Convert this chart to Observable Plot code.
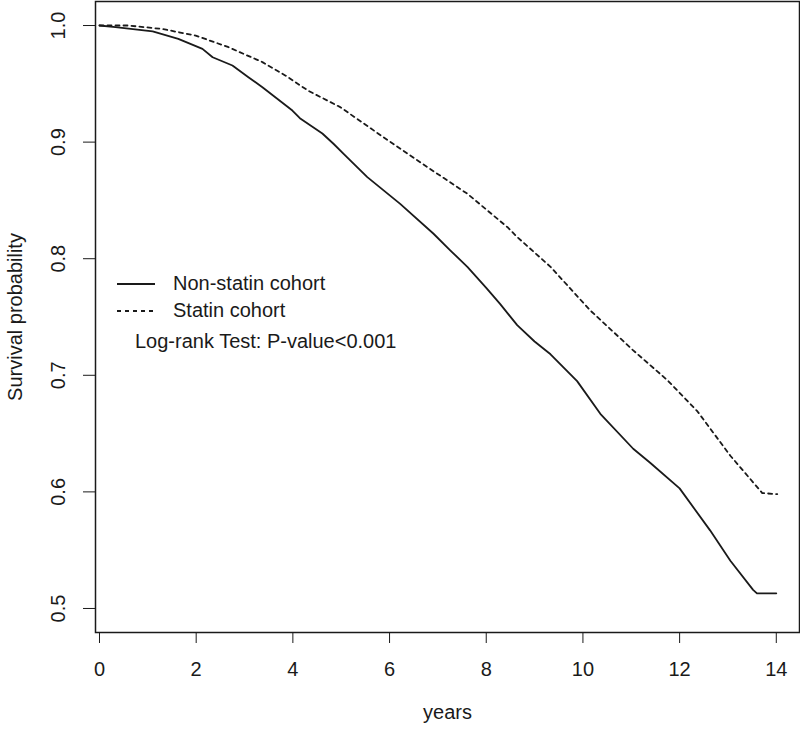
<!DOCTYPE html>
<html>
<head>
<meta charset="utf-8">
<script src="https://cdn.jsdelivr.net/npm/d3@7"></script>
<script src="https://cdn.jsdelivr.net/npm/@observablehq/plot@0.6"></script>
<style>
  body { margin: 0; background: white; }
  #wrap { position: relative; width: 800px; height: 730px; font-family: "Liberation Sans", Arial, sans-serif; color: #1a1a1a; }
  #legend { position: absolute; left: 117px; top: 270px; font-size: 20px; }
  #legend .row { display: flex; align-items: center; height: 27px; }
  #legend .row svg { width: 38px; height: 10px; margin-right: 18px; }
  #legend .note { margin-left: 18px; margin-top: 6px; }
</style>
</head>
<body>
<div id="wrap"></div>
<script>
// Non-statin cohort (solid)
const nonStatinYears = [0, 0.33, 1.10, 1.63, 2.13, 2.34, 2.75, 3.08, 3.37, 3.99, 4.16, 4.61, 4.84, 5.05, 5.54, 6.22, 6.91, 7.26, 7.61, 8.0, 8.29, 8.64, 9.0, 9.33, 9.88, 10.36, 11.04, 11.39, 12.0, 12.63, 13.05, 13.52, 13.6, 14.0];
const nonStatinSurv  = [1.0, 0.9986, 0.9949, 0.9886, 0.980, 0.9728, 0.9657, 0.9557, 0.9471, 0.9271, 0.920, 0.9074, 0.8986, 0.890, 0.870, 0.847, 0.8214, 0.807, 0.793, 0.775, 0.761, 0.743, 0.729, 0.718, 0.695, 0.667, 0.637, 0.625, 0.603, 0.567, 0.541, 0.516, 0.513, 0.513];
// Statin cohort (dashed)
const statinYears = [0, 0.6, 1.30, 1.99, 2.67, 3.37, 3.85, 4.32, 4.98, 5.87, 6.78, 7.61, 8.44, 8.64, 9.33, 10.15, 11.04, 11.75, 12.37, 13.05, 13.71, 14.02];
const statinSurv  = [1.0, 1.0, 0.997, 0.9914, 0.9814, 0.9686, 0.957, 0.944, 0.930, 0.9043, 0.8786, 0.8557, 0.827, 0.8186, 0.793, 0.7557, 0.7214, 0.6957, 0.669, 0.631, 0.599, 0.598];

const xTicks = [0, 2, 4, 6, 8, 10, 12, 14];
const yTicks = [0.5, 0.6, 0.7, 0.8, 0.9, 1.0];
const seriesNames = ["Non-statin cohort", "Statin cohort"];
const noteText = "Log-rank Test: P-value<0.001";
const xLabel = "years";
const yLabel = "Survival probability";

const nonStatin = nonStatinYears.map((t, i) => ({t, s: nonStatinSurv[i]}));
const statin = statinYears.map((t, i) => ({t, s: statinSurv[i]}));

const ink = "#1a1a1a";
const chart = Plot.plot({
  width: 800,
  height: 730,
  marginLeft: 95,
  marginRight: 1,
  marginTop: 1,
  marginBottom: 98,
  style: {fontFamily: "Liberation Sans, Arial, sans-serif", fontSize: "20px", color: ink, background: "white"},
  x: {domain: [-0.0827, 14.48]},
  y: {domain: [0.4794, 1.0206]},
  marks: [
    Plot.frame({stroke: ink, strokeWidth: 1.5}),
    Plot.axisX({ticks: xTicks, tickSize: 11, tickPadding: 18, tickFormat: d => String(d), label: null, fontSize: 20}),
    Plot.axisY({ticks: yTicks, tickSize: 12, tickFormat: () => "", label: null}),
    Plot.text(yTicks, {y: d => d, text: d => d.toFixed(1), frameAnchor: "left", textAnchor: "middle", dx: -37, rotate: -90, fontSize: 20, fill: ink}),
    Plot.text([xLabel], {frameAnchor: "bottom", dy: 86, fontSize: 20, fill: ink}),
    Plot.text([yLabel], {frameAnchor: "left", textAnchor: "middle", dx: -80, rotate: -90, fontSize: 20, fill: ink}),
    Plot.line(nonStatin, {x: "t", y: "s", stroke: ink, strokeWidth: 1.8}),
    Plot.line(statin, {x: "t", y: "s", stroke: ink, strokeWidth: 1.8, strokeDasharray: "4,4"})
  ]
});
const wrap = document.getElementById("wrap");
wrap.appendChild(chart);

const legend = document.createElement("div");
legend.id = "legend";
legend.innerHTML = `
  <div class="row"><svg><line x1="0" y1="5" x2="38" y2="5" stroke="${ink}" stroke-width="1.8"/></svg><span>${seriesNames[0]}</span></div>
  <div class="row"><svg><line x1="0" y1="5" x2="38" y2="5" stroke="${ink}" stroke-width="1.8" stroke-dasharray="4,4"/></svg><span>${seriesNames[1]}</span></div>
  <div class="note">${noteText}</div>`;
wrap.appendChild(legend);
</script>
</body>
</html>
